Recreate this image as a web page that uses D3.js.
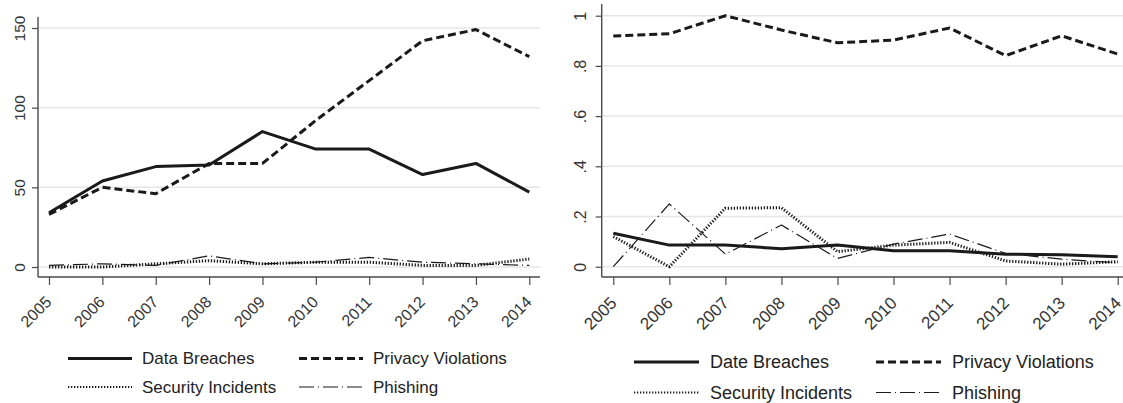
<!DOCTYPE html>
<html>
<head>
<meta charset="utf-8">
<script src="https://cdn.jsdelivr.net/npm/d3@7"></script>
<style>
  html, body { margin: 0; padding: 0; background: #fff; }
  svg { display: block; font-family: "Liberation Sans", Arial, sans-serif; }
</style>
</head>
<body>
<svg id="chart" width="1123" height="403"></svg>
<script>
// Years on the horizontal axis of both panels
const years = [2005, 2006, 2007, 2008, 2009, 2010, 2011, 2012, 2013, 2014];

// Left panel: counts per year
const countDataBreaches    = [34, 54, 63, 64, 85, 74, 74, 58, 65, 47];
const countPrivacy         = [33, 50, 46, 65, 65, 92, 117, 142, 149, 132];
const countSecurity        = [0, 0, 2, 4, 2, 3, 3, 1, 1, 5];
const countPhishing        = [1, 2, 1, 7, 2, 3, 6, 3, 2, 1];
const countTicks           = [0, 50, 100, 150];

// Right panel: shares per year
const shareDataBreaches    = [0.133, 0.086, 0.086, 0.072, 0.086, 0.064, 0.064, 0.050, 0.048, 0.040];
const sharePrivacy         = [0.919, 0.928, 1.000, 0.943, 0.892, 0.903, 0.951, 0.841, 0.920, 0.847];
const shareSecurity        = [0.120, 0.000, 0.233, 0.235, 0.060, 0.086, 0.097, 0.023, 0.010, 0.020];
const sharePhishing        = [0.000, 0.250, 0.050, 0.166, 0.033, 0.090, 0.130, 0.053, 0.030, 0.015];
const shareTicks           = [0, 0.2, 0.4, 0.6, 0.8, 1];

// Legend labels
const leftLegend  = ["Data Breaches", "Privacy Violations", "Security Incidents", "Phishing"];
const rightLegend = ["Date Breaches", "Privacy Violations", "Security Incidents", "Phishing"];

// Line styles for the four series (solid, dash, dot, dash-dot)
const styles = [
  { width: 3,   dash: null },
  { width: 3,   dash: "8,4" },
  { width: 3,   dash: "1.3,1.7" },
  { width: 1.2, dash: "15,4,1,4" }
];

const svg = d3.select("#chart");
const ink = "#1a1a1a";
const axisColor = "#4a4a4a";
const gridColor = "#e6e6e6";

function panel(cfg) {
  const x = d3.scaleLinear().domain([2005, 2014]).range(cfg.xRange);
  const y = d3.scaleLinear().domain(cfg.yDomain).range(cfg.yRange);
  const g = svg.append("g");

  // horizontal gridlines
  g.append("g").selectAll("line").data(cfg.ticks).join("line")
    .attr("x1", cfg.axisX + 1).attr("x2", cfg.axisRight)
    .attr("y1", d => y(d)).attr("y2", d => y(d))
    .attr("stroke", gridColor).attr("stroke-width", 1.5);

  // y axis
  const ya = g.append("g").attr("transform", `translate(${cfg.axisX},0)`)
    .call(d3.axisLeft(y).tickValues(cfg.ticks).tickSize(6).tickSizeOuter(0).tickFormat(cfg.fmt));
  ya.attr("font-family", null);
  ya.select(".domain").remove();
  ya.selectAll(".tick line").attr("stroke", axisColor).attr("stroke-width", 1.2);
  ya.selectAll(".tick text")
    .attr("x", null).attr("dy", null)
    .attr("transform", `translate(${cfg.yLabelOff},0) rotate(-90)`)
    .attr("text-anchor", "middle")
    .attr("fill", "#333").attr("font-size", cfg.yFont);
  g.append("line")
    .attr("x1", cfg.axisX).attr("x2", cfg.axisX)
    .attr("y1", cfg.axisTop).attr("y2", cfg.axisY)
    .attr("stroke", axisColor).attr("stroke-width", 1.4);

  // x axis
  const xa = g.append("g").attr("transform", `translate(0,${cfg.axisY})`)
    .call(d3.axisBottom(x).tickValues(years).tickSize(8).tickSizeOuter(0).tickFormat(d3.format("d")));
  xa.attr("font-family", null);
  xa.select(".domain").remove();
  xa.selectAll(".tick line").attr("stroke", axisColor).attr("stroke-width", 1.2);
  xa.selectAll(".tick text")
    .attr("y", null).attr("dy", null)
    .attr("transform", `translate(${cfg.xLabelDx},${cfg.xLabelDy}) rotate(-45)`)
    .attr("text-anchor", "end")
    .attr("fill", "#333").attr("font-size", cfg.xFont);
  g.append("line")
    .attr("x1", cfg.axisX).attr("x2", cfg.axisRight)
    .attr("y1", cfg.axisY).attr("y2", cfg.axisY)
    .attr("stroke", axisColor).attr("stroke-width", 1.4);

  // series lines
  const line = d3.line().x((d, i) => x(years[i])).y(d => y(d));
  cfg.series.forEach((s, k) => {
    g.append("path").datum(s)
      .attr("d", line)
      .attr("fill", "none")
      .attr("stroke", ink)
      .attr("stroke-width", styles[k].width)
      .attr("stroke-dasharray", styles[k].dash)
      .attr("stroke-linejoin", "round");
  });

  // legend, two rows of two entries
  const lg = g.append("g");
  cfg.legend.forEach((label, k) => {
    const col = k % 2, row = Math.floor(k / 2);
    const lx = cfg.legCols[col], ly = cfg.legRows[row];
    lg.append("line")
      .attr("x1", lx).attr("x2", lx + cfg.legSample)
      .attr("y1", ly).attr("y2", ly)
      .attr("stroke", ink)
      .attr("stroke-width", k === 2 ? 2.2 : styles[k].width)
      .attr("stroke-dasharray", styles[k].dash);
    lg.append("text")
      .attr("x", lx + cfg.legSample + cfg.legGap).attr("y", ly)
      .attr("dy", "0.35em")
      .attr("font-size", cfg.legFont).attr("fill", "#222")
      .text(label);
  });
}

panel({
  xRange: [49, 529.3], yDomain: [0, 150], yRange: [267, 28],
  axisX: 38, axisTop: 17, axisY: 277, axisRight: 540,
  ticks: countTicks, fmt: d3.format("d"),
  yLabelOff: -13, yFont: 15.5, xFont: 16, xLabelDx: 3, xLabelDy: 26,
  series: [countDataBreaches, countPrivacy, countSecurity, countPhishing],
  legend: leftLegend,
  legCols: [68, 299], legRows: [358.5, 387], legSample: 64, legGap: 10, legFont: 17
});

panel({
  xRange: [613.3, 1117.7], yDomain: [0, 1], yRange: [266.7, 15.7],
  axisX: 601.7, axisTop: 4, axisY: 277, axisRight: 1123,
  ticks: shareTicks, fmt: d => (d === 0 || d === 1) ? String(d) : d3.format(".1f")(d).replace(/^0/, ""),
  yLabelOff: -16, yFont: 16, xFont: 17, xLabelDx: 4, xLabelDy: 27,
  series: [shareDataBreaches, sharePrivacy, shareSecurity, sharePhishing],
  legend: rightLegend,
  legCols: [634, 876], legRows: [362, 392.5], legSample: 65, legGap: 11, legFont: 18
});
</script>
</body>
</html>
